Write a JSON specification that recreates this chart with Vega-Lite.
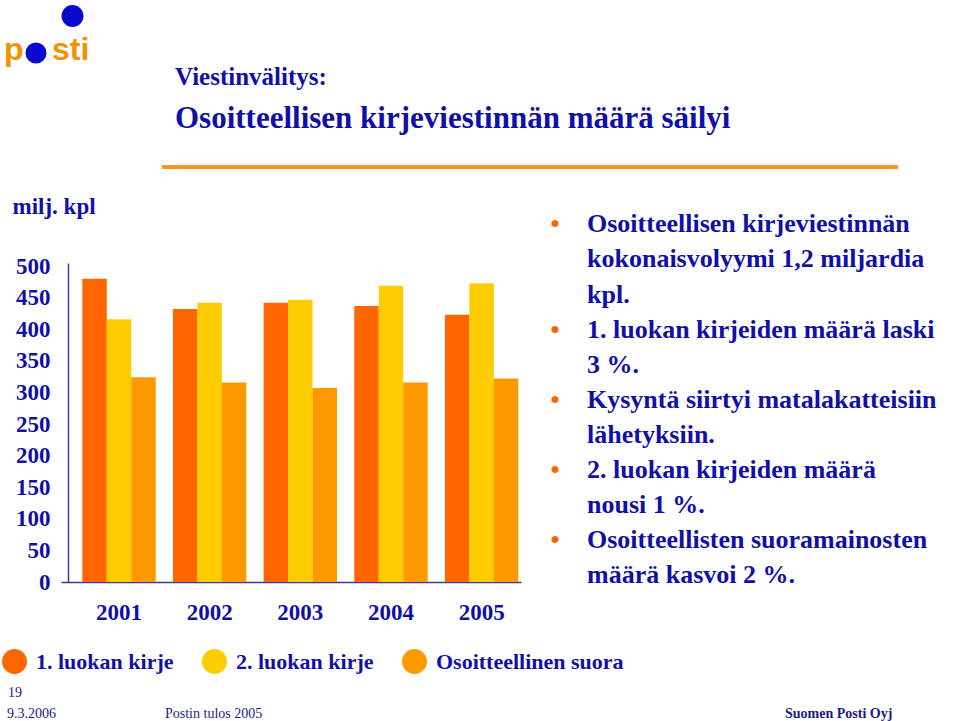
{
  "$schema": "https://vega.github.io/schema/vega-lite/v6.json",
  "width": 460,
  "height": 319,
  "autosize": {"type": "none"},
  "padding": {"left": 61, "top": 263, "right": 438, "bottom": 139},
  "background": "white",
  "config": {"view": {"stroke": null}, "font": "Liberation Serif"},
  "title": {
    "text": "Viestinvälitys:",
    "subtitle": "Osoitteellisen kirjeviestinnän määrä säilyi",
    "anchor": "start",
    "frame": "group",
    "orient": "top",
    "dx": 114,
    "offset": -129,
    "font": "Liberation Serif",
    "fontSize": 25,
    "fontWeight": "bold",
    "color": "#1010A8",
    "subtitleFont": "Liberation Serif",
    "subtitleFontSize": 31,
    "subtitleFontWeight": "bold",
    "subtitleColor": "#1010A8",
    "subtitlePadding": 14
  },
  "layer": [
    {
      "data": {
        "values": [
          {"year": "2001", "category": "1. luokan kirje", "value": 480},
          {"year": "2001", "category": "2. luokan kirje", "value": 416},
          {"year": "2001", "category": "Osoitteellinen suora", "value": 324},
          {"year": "2002", "category": "1. luokan kirje", "value": 432},
          {"year": "2002", "category": "2. luokan kirje", "value": 442},
          {"year": "2002", "category": "Osoitteellinen suora", "value": 316},
          {"year": "2003", "category": "1. luokan kirje", "value": 442},
          {"year": "2003", "category": "2. luokan kirje", "value": 447},
          {"year": "2003", "category": "Osoitteellinen suora", "value": 307},
          {"year": "2004", "category": "1. luokan kirje", "value": 437},
          {"year": "2004", "category": "2. luokan kirje", "value": 469},
          {"year": "2004", "category": "Osoitteellinen suora", "value": 316},
          {"year": "2005", "category": "1. luokan kirje", "value": 423},
          {"year": "2005", "category": "2. luokan kirje", "value": 473},
          {"year": "2005", "category": "Osoitteellinen suora", "value": 322}
        ]
      },
      "mark": {"type": "bar"},
      "encoding": {
        "x": {
          "field": "year",
          "type": "nominal",
          "scale": {"paddingInner": 0.19, "paddingOuter": 0.132, "align": 0.89},
          "axis": {
            "title": null,
            "labelAngle": 0,
            "labelFont": "Liberation Serif",
            "labelFontSize": 23,
            "labelFontWeight": "bold",
            "labelColor": "#1010A8",
            "labelPadding": 19,
            "labelDx": -5,
            "ticks": false,
            "tickSize": 0,
            "grid": false,
            "domainColor": "#3A3A9A",
            "domainWidth": 1.5
          }
        },
        "xOffset": {
          "field": "category",
          "type": "nominal",
          "sort": ["1. luokan kirje", "2. luokan kirje", "Osoitteellinen suora"],
          "scale": {"paddingInner": 0, "paddingOuter": 0}
        },
        "y": {
          "field": "value",
          "type": "quantitative",
          "scale": {"domain": [0, 505], "nice": false},
          "axis": {
            "values": [0, 50, 100, 150, 200, 250, 300, 350, 400, 450, 500],
            "title": "milj. kpl",
            "titleAngle": 0,
            "titleX": -56,
            "titleY": -57,
            "titleAlign": "left",
            "titleBaseline": "middle",
            "titleFont": "Liberation Serif",
            "titleFontSize": 23,
            "titleFontWeight": "bold",
            "titleColor": "#1010A8",
            "labelFont": "Liberation Serif",
            "labelFontSize": 23,
            "labelFontWeight": "bold",
            "labelColor": "#1010A8",
            "labelPadding": 18,
            "labelFlush": false,
            "labelOverlap": false,
            "ticks": false,
            "tickSize": 0,
            "grid": false,
            "domainColor": "#3A3A9A",
            "domainWidth": 1.5,
            "offset": -7
          }
        },
        "color": {
          "field": "category",
          "type": "nominal",
          "scale": {
            "domain": ["1. luokan kirje", "2. luokan kirje", "Osoitteellinen suora"],
            "range": ["#FF6600", "#FFCC00", "#FF9900"]
          },
          "legend": {
            "title": null,
            "orient": "none",
            "legendX": -59,
            "legendY": 386,
            "direction": "horizontal",
            "columns": 3,
            "symbolType": "circle",
            "symbolSize": 625,
            "symbolStrokeWidth": 0,
            "symbolOpacity": 1,
            "labelFont": "Liberation Serif",
            "labelFontSize": 22,
            "labelFontWeight": "bold",
            "labelColor": "#1010A8",
            "labelOffset": 9,
            "columnPadding": 28,
            "labelLimit": 400,
            "padding": 0
          }
        }
      }
    },
    {
      "data": {
        "values": [
          {"line": 1, "text": "Osoitteellisen kirjeviestinnän", "first": true},
          {"line": 2, "text": "kokonaisvolyymi 1,2 miljardia", "first": false},
          {"line": 3, "text": "kpl.", "first": false},
          {"line": 4, "text": "1. luokan kirjeiden määrä laski", "first": true},
          {"line": 5, "text": "3 %.", "first": false},
          {"line": 6, "text": "Kysyntä siirtyi matalakatteisiin", "first": true},
          {"line": 7, "text": "lähetyksiin.", "first": false},
          {"line": 8, "text": "2. luokan kirjeiden määrä", "first": true},
          {"line": 9, "text": "nousi 1 %.", "first": false},
          {"line": 10, "text": "Osoitteellisten suoramainosten", "first": true},
          {"line": 11, "text": "määrä kasvoi 2 %.", "first": false}
        ]
      },
      "encoding": {
        "y": {
          "field": "line",
          "type": "ordinal",
          "scale": {"type": "point", "domain": [1, 2, 3, 4, 5, 6, 7, 8, 9, 10, 11], "range": [-30.7, 320.3], "padding": 0},
          "axis": null
        }
      },
      "layer": [
        {
          "mark": {"type": "text", "align": "left", "baseline": "alphabetic", "font": "Liberation Serif", "fontSize": 26, "fontWeight": "bold", "color": "#1010A8"},
          "encoding": {"x": {"value": 526}, "text": {"field": "text"}}
        },
        {
          "transform": [{"filter": "datum.first"}],
          "mark": {"type": "text", "text": "•", "align": "center", "baseline": "alphabetic", "font": "Liberation Serif", "fontSize": 26, "fontWeight": "bold", "color": "#FF6600"},
          "encoding": {"x": {"value": 494}}
        }
      ]
    },
    {
      "data": {"values": [{}]},
      "mark": {"type": "rule", "color": "#F7961C", "strokeWidth": 4},
      "encoding": {"x": {"value": 101}, "x2": {"value": 837}, "y": {"value": -96}}
    },
    {
      "data": {"values": [{}]},
      "mark": {"type": "text", "text": "p", "font": "Liberation Sans", "fontSize": 32, "fontWeight": "bold", "color": "#F39200", "align": "left", "baseline": "alphabetic"},
      "encoding": {"x": {"value": -57}, "y": {"value": -203}}
    },
    {
      "data": {"values": [{}]},
      "mark": {"type": "text", "text": "sti", "font": "Liberation Sans", "fontSize": 32, "fontWeight": "bold", "color": "#F39200", "align": "left", "baseline": "alphabetic"},
      "encoding": {"x": {"value": -9}, "y": {"value": -203}}
    },
    {
      "data": {"values": [{}]},
      "mark": {"type": "circle", "size": 441, "color": "#0A0ACF", "opacity": 1},
      "encoding": {"x": {"value": -25}, "y": {"value": -210}}
    },
    {
      "data": {"values": [{}]},
      "mark": {"type": "circle", "size": 484, "color": "#0A0ACF", "opacity": 1},
      "encoding": {"x": {"value": 11.5}, "y": {"value": -247}}
    },
    {
      "data": {"values": [{}]},
      "mark": {"type": "text", "text": "19", "font": "Liberation Serif", "fontSize": 14, "color": "#1B1B86", "align": "left", "baseline": "middle"},
      "encoding": {"x": {"value": -53}, "y": {"value": 430}}
    },
    {
      "data": {"values": [{}]},
      "mark": {"type": "text", "text": "9.3.2006", "font": "Liberation Serif", "fontSize": 14, "color": "#1B1B86", "align": "left", "baseline": "middle"},
      "encoding": {"x": {"value": -54}, "y": {"value": 451}}
    },
    {
      "data": {"values": [{}]},
      "mark": {"type": "text", "text": "Postin tulos 2005", "font": "Liberation Serif", "fontSize": 14, "color": "#1B1B86", "align": "left", "baseline": "middle"},
      "encoding": {"x": {"value": 104}, "y": {"value": 451}}
    },
    {
      "data": {"values": [{}]},
      "mark": {"type": "text", "text": "Suomen Posti Oyj", "font": "Liberation Serif", "fontSize": 14, "fontWeight": "bold", "color": "#1B1B86", "align": "left", "baseline": "middle"},
      "encoding": {"x": {"value": 724}, "y": {"value": 451}}
    }
  ],
  "resolve": {"scale": {"y": "independent"}}
}
